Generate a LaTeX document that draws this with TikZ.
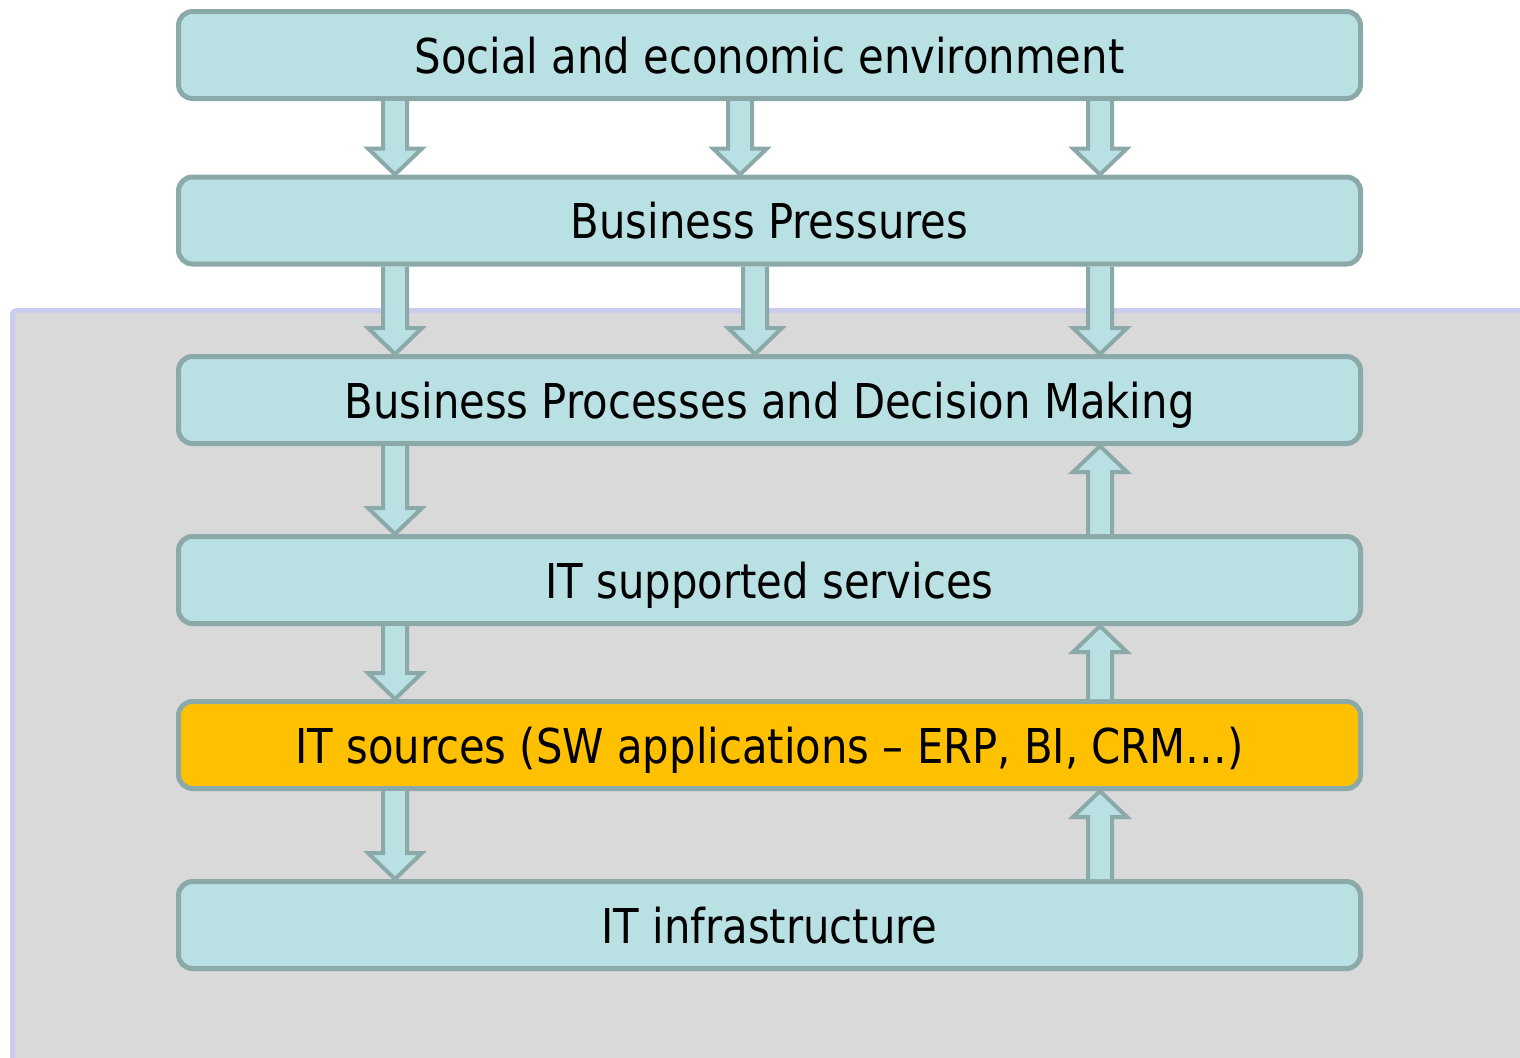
\documentclass[tikz,border=0pt]{standalone}
\usepackage{fontspec}
\setmainfont{DejaVu Sans}[FakeStretch=0.87]
\usetikzlibrary{calc}

\definecolor{boxfill}{HTML}{B9E0E3}
\definecolor{boxline}{HTML}{8CA9AA}
\definecolor{itgold}{HTML}{FFC000}
\definecolor{areagray}{HTML}{D9D9D9}
\definecolor{arealine}{HTML}{CCCCEE}

\tikzset{
	layer/.style={draw=boxline, fill=boxfill, line width=2.5pt, rounded corners=7pt,
		minimum width=591pt, minimum height=43.5pt, inner sep=0pt,
		text height=20pt, text depth=2pt,
		font=\fontsize{24}{28}\selectfont},
	blockarrow/.style={draw=boxline, fill=boxfill, line width=2pt, line join=miter},
}

% hollow block arrow: x position, start anchor, tip anchor, 1 = down / -1 = up
\newcommand{\blockarr}[4]{%
	\path (#1,0 |- #2) coordinate (ba) (#1,0 |- #3) coordinate (bb);
	\filldraw[blockarrow] ($(ba)+(-12,0)$) -- ($(bb)+(-12,-26*#4)$) -- ($(bb)+(-27,-26*#4)$)
		-- (bb) -- ($(bb)+(27,-26*#4)$) -- ($(bb)+(12,-26*#4)$) -- ($(ba)+(12,0)$);
}

\begin{document}
\begin{tikzpicture}[x=0.5pt, y=-0.5pt]
	\useasboundingbox (0,0) rectangle (1520,1057);
	\draw[fill=areagray, draw=arealine, line width=2.5pt, rounded corners=2pt] (12.5,310.5) rectangle (1560,1090);

	\node[layer] (env) at (769.5,55) {Social and economic environment};
	\node[layer] (press) at (769.5,220.5) {Business Pressures};
	\node[layer] (procs) at (769.5,400) {Business Processes and Decision Making};
	\node[layer] (itsvc) at (769.5,580) {IT supported services};
	\node[layer, fill=itgold] (itsrc) at (769.5,745) {IT sources (SW applications – ERP, BI, CRM…)};
	\node[layer] (infra) at (769.5,925) {IT infrastructure};

	\blockarr{395}{env.south}{press.north}{1}
	\blockarr{740}{env.south}{press.north}{1}
	\blockarr{1100}{env.south}{press.north}{1}

	\blockarr{395}{press.south}{procs.north}{1}
	\blockarr{755}{press.south}{procs.north}{1}
	\blockarr{1100}{press.south}{procs.north}{1}

	\blockarr{395}{procs.south}{itsvc.north}{1}
	\blockarr{1100}{itsvc.north}{procs.south}{-1}

	\blockarr{395}{itsvc.south}{itsrc.north}{1}
	\blockarr{1100}{itsrc.north}{itsvc.south}{-1}

	\blockarr{395}{itsrc.south}{infra.north}{1}
	\blockarr{1100}{infra.north}{itsrc.south}{-1}
\end{tikzpicture}
\end{document}
